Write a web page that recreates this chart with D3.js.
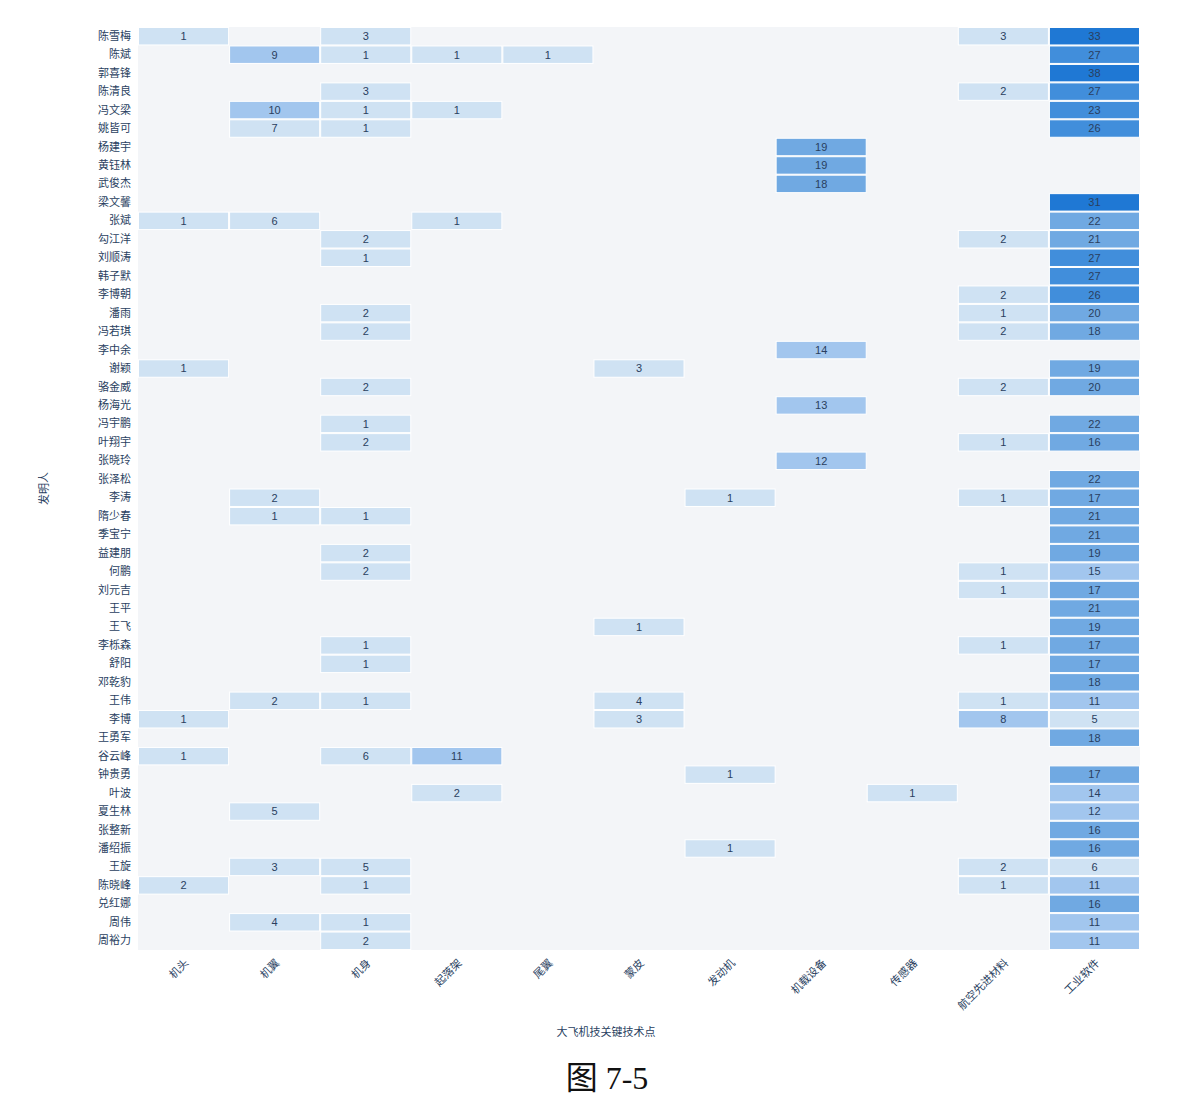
<!DOCTYPE html>
<html>
<head>
<meta charset="utf-8">
<script src="https://cdn.jsdelivr.net/npm/d3@7"></script>
<style>
  body { margin: 0; background: #fff; }
  text { font-family: "Liberation Sans", "Noto Sans CJK SC", sans-serif; }
</style>
</head>
<body>
<div id="container"></div>
<script>
/* CONSTANTS AND GLOBALS */
const width = 1193,
  height = 1110,
  margin = { top: 27, bottom: 160, left: 138, right: 53 };

// DATA
const inventors = ["陈雪梅","陈斌","郭喜锋","陈清良","冯文梁","姚皆可","杨建宇","黄钰林","武俊杰","梁文馨",
  "张斌","勾江洋","刘顺涛","韩子默","李博朝","潘雨","冯若琪","李中余","谢颖","骆金威",
  "杨海光","冯宇鹏","叶翔宇","张晓玲","张泽松","李涛","隋少春","季宝宁","益建朋","何鹏",
  "刘元吉","王平","王飞","李栎森","舒阳","邓乾豹","王伟","李博","王勇军","谷云峰",
  "钟贵勇","叶波","夏生林","张整新","潘绍振","王旋","陈晓峰","兑红娜","周伟","周裕力"]

const techPoints = ["机头","机翼","机身","起落架","尾翼","蒙皮","发动机","机载设备","传感器","航空先进材料","工业软件"]

// one array per tech point, values in inventor order (0 = no patent)
const jitou = [1,0,0,0,0,0,0,0,0,0, 1,0,0,0,0,0,0,0,1,0, 0,0,0,0,0,0,0,0,0,0, 0,0,0,0,0,0,0,1,0,1, 0,0,0,0,0,0,2,0,0,0]
const jiyi = [0,9,0,0,10,7,0,0,0,0, 6,0,0,0,0,0,0,0,0,0, 0,0,0,0,0,2,1,0,0,0, 0,0,0,0,0,0,2,0,0,0, 0,0,5,0,0,3,0,0,4,0]
const jishen = [3,1,0,3,1,1,0,0,0,0, 0,2,1,0,0,2,2,0,0,2, 0,1,2,0,0,0,1,0,2,2, 0,0,0,1,1,0,1,0,0,6, 0,0,0,0,0,5,1,0,1,2]
const qiluojia = [0,1,0,0,1,0,0,0,0,0, 1,0,0,0,0,0,0,0,0,0, 0,0,0,0,0,0,0,0,0,0, 0,0,0,0,0,0,0,0,0,11, 0,2,0,0,0,0,0,0,0,0]
const weiyi = [0,1,0,0,0,0,0,0,0,0, 0,0,0,0,0,0,0,0,0,0, 0,0,0,0,0,0,0,0,0,0, 0,0,0,0,0,0,0,0,0,0, 0,0,0,0,0,0,0,0,0,0]
const mengpi = [0,0,0,0,0,0,0,0,0,0, 0,0,0,0,0,0,0,0,3,0, 0,0,0,0,0,0,0,0,0,0, 0,0,1,0,0,0,4,3,0,0, 0,0,0,0,0,0,0,0,0,0]
const fadongji = [0,0,0,0,0,0,0,0,0,0, 0,0,0,0,0,0,0,0,0,0, 0,0,0,0,0,1,0,0,0,0, 0,0,0,0,0,0,0,0,0,0, 1,0,0,0,1,0,0,0,0,0]
const jizai = [0,0,0,0,0,0,19,19,18,0, 0,0,0,0,0,0,0,14,0,0, 13,0,0,12,0,0,0,0,0,0, 0,0,0,0,0,0,0,0,0,0, 0,0,0,0,0,0,0,0,0,0]
const chuanganqi = [0,0,0,0,0,0,0,0,0,0, 0,0,0,0,0,0,0,0,0,0, 0,0,0,0,0,0,0,0,0,0, 0,0,0,0,0,0,0,0,0,0, 0,1,0,0,0,0,0,0,0,0]
const cailiao = [3,0,0,2,0,0,0,0,0,0, 0,2,0,0,2,1,2,0,0,2, 0,0,1,0,0,1,0,0,0,1, 1,0,0,1,0,0,1,8,0,0, 0,0,0,0,0,2,1,0,0,0]
const ruanjian = [33,27,38,27,23,26,0,0,0,31, 22,21,27,27,26,20,18,0,19,20, 0,22,16,0,22,17,21,21,19,15, 17,21,19,17,17,18,11,5,18,0, 17,14,12,16,16,6,11,16,11,11]

const seriesByTech = [jitou, jiyi, jishen, qiluojia, weiyi, mengpi, fadongji, jizai, chuanganqi, cailiao, ruanjian]

const colorSteps = ["#cfe2f3", "#a2c6ee", "#70a9e2", "#418edb", "#1f78d4"]

// build cell table
const cells = []
seriesByTech.forEach((vals, ci) => {
  vals.forEach((v, ri) => {
    if (v > 0) cells.push({ tech: techPoints[ci], name: inventors[ri], value: v })
  })
})

// APPEND SVG
const svg = d3.select("#container")
  .append("svg")
  .attr("width", width)
  .attr("height", height)

const xScale = d3.scaleBand()
  .domain(techPoints)
  .range([margin.left, width - margin.right])

const yScale = d3.scaleBand()
  .domain(inventors)
  .range([margin.top, height - margin.bottom])

const colorScale = d3.scaleQuantize()
  .domain([0, d3.max(cells, d => d.value)])
  .range(colorSteps)

// plot background
svg.append("rect")
  .attr("x", margin.left)
  .attr("y", margin.top)
  .attr("width", width - margin.left - margin.right)
  .attr("height", height - margin.top - margin.bottom)
  .attr("fill", "#f3f5f8")

// CELLS
svg.selectAll("rect.cell")
  .data(cells)
  .join("rect")
  .attr("class", "cell")
  .attr("x", d => xScale(d.tech) + 0.5)
  .attr("y", d => yScale(d.name) + 0.5)
  .attr("width", xScale.bandwidth() - 1)
  .attr("height", yScale.bandwidth() - 1)
  .attr("fill", d => colorScale(d.value))
  .attr("stroke", "#ffffff")
  .attr("stroke-width", 1)

svg.selectAll("text.val")
  .data(cells)
  .join("text")
  .attr("class", "val")
  .attr("x", d => xScale(d.tech) + xScale.bandwidth() / 2)
  .attr("y", d => yScale(d.name) + yScale.bandwidth() / 2)
  .attr("dy", "0.35em")
  .attr("text-anchor", "middle")
  .attr("font-size", 11)
  .attr("fill", "#2a3f5f")
  .text(d => d.value)

// AXES
const yAxis = svg.append("g")
  .attr("transform", `translate(${margin.left - 2},0)`)
  .call(d3.axisLeft(yScale).tickSize(0).tickPadding(5))
yAxis.select(".domain").remove()
yAxis.selectAll("text")
  .attr("font-size", 11)
  .attr("fill", "#2a3f5f")
  .style("font-family", "'Noto Sans CJK SC', sans-serif")

const xAxis = svg.append("g")
  .attr("transform", `translate(0,${height - margin.bottom})`)
  .call(d3.axisBottom(xScale).tickSize(0).tickPadding(0))
xAxis.select(".domain").remove()
xAxis.selectAll("text")
  .attr("font-size", 11)
  .attr("fill", "#2a3f5f")
  .style("font-family", "'Noto Sans CJK SC', sans-serif")
  .attr("text-anchor", "end")
  .attr("dy", "0.35em")
  .attr("y", 0)
  .attr("transform", "translate(3,11) rotate(-45)")

// AXIS TITLES
svg.append("text")
  .attr("x", 606)
  .attr("y", 1036)
  .attr("text-anchor", "middle")
  .attr("font-size", 11)
  .attr("fill", "#2a3f5f")
  .style("font-family", "'Noto Sans CJK SC', sans-serif")
  .text("大飞机技关键技术点")

svg.append("text")
  .attr("transform", `translate(48,${(margin.top + height - margin.bottom) / 2}) rotate(-90)`)
  .attr("text-anchor", "middle")
  .attr("font-size", 11)
  .attr("fill", "#2a3f5f")
  .style("font-family", "'Noto Sans CJK SC', sans-serif")
  .text("发明人")

// CAPTION
svg.append("text")
  .attr("x", 607)
  .attr("y", 1089)
  .attr("text-anchor", "middle")
  .attr("font-size", 32)
  .attr("fill", "#111")
  .style("font-family", "'Liberation Serif', 'Noto Sans CJK SC', serif")
  .text("图 7-5")
</script>
</body>
</html>
